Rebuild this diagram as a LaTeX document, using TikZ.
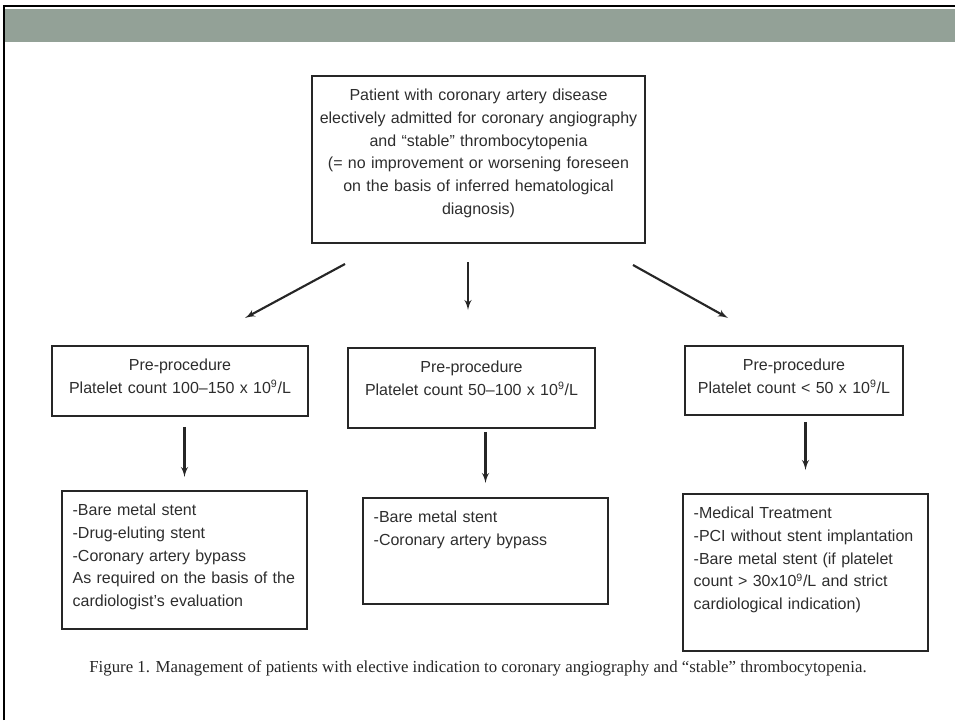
\documentclass[tikz,border=0pt]{standalone}
\usepackage{fontspec}
\setmainfont{Liberation Serif}
\setsansfont{Liberation Sans}
\usepackage{tikz}
\usetikzlibrary{arrows, positioning}

\definecolor{bandgray}{RGB}{147,161,151}
\definecolor{inkgray}{RGB}{45,45,45}

\begin{document}
\begin{tikzpicture}[x=0.75pt, y=-0.75pt, every node/.style={font=\sffamily\fontsize{12}{17}\selectfont, text=inkgray}]

	\tikzstyle{block} = [rectangle, draw=black!85, line width=1.4pt, anchor=north, inner xsep=5pt, inner ysep=10.75pt, text height=8pt, align=center]
	\tikzstyle{listblock} = [block, inner xsep=8pt, text width=167.75pt, align=left]
	\tikzstyle{line} = [draw, black!85, line width=1.6pt, -latex']
	\tikzstyle{caption} = [font=\rmfamily\fontsize{12.6}{14}\selectfont, text=black!85]

	\useasboundingbox (0,0) rectangle (955,720);

	% slide frame and title band
	\fill[bandgray] (5,9) rectangle (955,42);
	\draw[line width=2pt, black] (4,720) -- (4,6) -- (955,6);

	\node [block, text width=239.75pt, text depth=95.75pt] (patient) at (478.5,75) {Patient with coronary artery disease\\electively admitted for coronary angiography\\and “stable” thrombocytopenia\\(= no improvement or worsening foreseen\\on the basis of inferred hematological\\diagnosis)};

	\node [block, text width=182pt, text depth=23pt] (pre1) at (180,345) {Pre-procedure\\Platelet count 100–150 x 10\textsuperscript{9}/L};
	\node [block, text width=175.25pt, text depth=30.5pt] (pre2) at (471.5,347) {Pre-procedure\\Platelet count 50–100 x 10\textsuperscript{9}/L};
	\node [block, text width=153.5pt, text depth=22.25pt] (pre3) at (794,345) {Pre-procedure\\Platelet count < 50 x 10\textsuperscript{9}/L};

	\node [listblock, text depth=74pt] (opt1) at (184.5,490) {-Bare metal stent\\-Drug-eluting stent\\-Coronary artery bypass\\As required on the basis of the\\cardiologist’s evaluation};
	\node [listblock, text depth=50pt] (opt2) at (485.5,497) {-Bare metal stent\\-Coronary artery bypass};
	\node [listblock, text depth=88.25pt] (opt3) at (805.5,493) {-Medical Treatment\\-PCI without stent implantation\\-Bare metal stent (if platelet\\count > 30x10\textsuperscript{9}/L and strict\\cardiological indication)};

	\node [caption] (figcap) at (478,668) {Figure 1. Management of patients with elective indication to coronary angiography and ``stable'' thrombocytopenia.};

	% free standing arrows under the first box
	\coordinate (l0) at (345,264);
	\coordinate (l1) at (245,318);
	\coordinate (m0) at (468,262);
	\coordinate (m1) at (468,310);
	\coordinate (r0) at (633,265);
	\coordinate (r1) at (728,318);

	\path [line] (l0) -- (l1);
	\path [line] (m0) -- (m1);
	\path [line] (r0) -- (r1);
	\path [line, shorten <=7.5pt, shorten >=9.75pt] (pre1.south -| opt1.north) -- (opt1.north);
	\path [line, shorten <=2.25pt, shorten >=10.5pt] (pre2.south -| opt2.north) -- (opt2.north);
	\path [line, shorten <=4.5pt, shorten >=17.25pt] (pre3.south -| opt3.north) -- (opt3.north);
\end{tikzpicture}
\end{document}
